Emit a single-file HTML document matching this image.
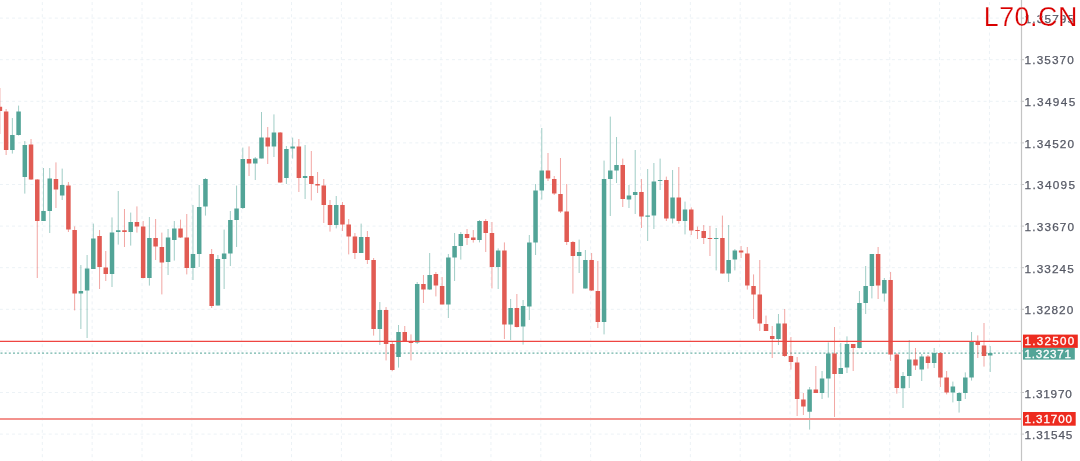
<!DOCTYPE html>
<html lang="en"><head><meta charset="utf-8"><title>Chart</title>
<style>html,body{margin:0;padding:0;background:#fff;}body{width:1080px;height:461px;overflow:hidden;}svg{display:block;}text{font-family:"Liberation Sans",Arial,Helvetica,sans-serif;}</style>
</head><body>
<svg width="1080" height="461" viewBox="0 0 1080 461">
<rect width="1080" height="461" fill="#fff"/>
<g stroke="#ecf2f6" stroke-width="1" stroke-dasharray="3.05 3.06" stroke-dashoffset="0.18" fill="none">
<path d="M0 18.1 H1021.5"/>
<path d="M0 59.7 H1021.5"/>
<path d="M0 101.3 H1021.5"/>
<path d="M0 142.9 H1021.5"/>
<path d="M0 184.5 H1021.5"/>
<path d="M0 226.1 H1021.5"/>
<path d="M0 267.7 H1021.5"/>
<path d="M0 309.3 H1021.5"/>
<path d="M0 350.9 H1021.5"/>
<path d="M0 392.5 H1021.5"/>
<path d="M0 434.1 H1021.5"/>
</g>
<g stroke="#ecf2f6" stroke-width="1" stroke-dasharray="3.05 3.06" stroke-dashoffset="4.09" fill="none">
<path d="M42.3 0 V461"/>
<path d="M92.15 0 V461"/>
<path d="M142 0 V461"/>
<path d="M191.85 0 V461"/>
<path d="M241.7 0 V461"/>
<path d="M291.55 0 V461"/>
<path d="M341.4 0 V461"/>
<path d="M391.25 0 V461"/>
<path d="M441.1 0 V461"/>
<path d="M490.95 0 V461"/>
<path d="M540.8 0 V461"/>
<path d="M590.65 0 V461"/>
<path d="M640.5 0 V461"/>
<path d="M690.35 0 V461"/>
<path d="M740.2 0 V461"/>
<path d="M790.05 0 V461"/>
<path d="M839.9 0 V461"/>
<path d="M889.75 0 V461"/>
<path d="M939.6 0 V461"/>
<path d="M989.45 0 V461"/>
</g>
<path d="M0.5 353.1 H1021.5" stroke="#6fb3a8" stroke-width="1.3" stroke-dasharray="2 2.156" fill="none"/>
<path d="M12.36 118 V153.6 M18.59 105.6 V135.6 M24.81 141 V193.6 M43.5 168 V221 M49.73 168 V233 M62.19 168.6 V200 M80.87 265 V329 M87.1 255 V338 M93.33 223.6 V269 M112.01 217.4 V287 M118.24 191 V244.6 M130.7 212.6 V245.6 M149.38 217 V285.6 M168.07 229 V275 M174.3 221 V260.6 M192.98 205 V280 M199.21 185 V267 M205.44 178 V215.6 M217.9 255 V305.6 M224.13 229.6 V289 M230.35 211 V266 M236.58 185.6 V247 M242.81 147.6 V209 M255.27 157 V180 M261.5 112 V158.4 M273.95 114.4 V157 M286.41 146 V184 M292.64 137.6 V158.6 M305.1 145 V199 M336.24 196 V228.4 M361.15 223.6 V253 M379.84 302 V345 M398.52 325 V367.6 M417.21 282 V344 M429.67 253 V290 M448.35 254 V318 M454.58 233 V281 M460.81 232 V259.6 M479.49 220 V242.4 M498.18 248.4 V289 M510.64 299 V340 M523.09 300 V344.6 M529.32 235 V320 M535.55 184 V255 M541.78 128 V199.6 M579.15 239.6 V273 M585.38 250 V288.6 M604.06 160.6 V334.4 M610.29 116.6 V216 M616.52 137 V183 M628.98 185 V208 M635.21 150 V214 M647.66 169 V241 M653.89 163 V229 M660.12 158.6 V190 M672.58 170 V223.4 M685.03 201.6 V234.4 M716.18 228 V270.4 M728.63 225 V282 M734.86 249 V270.4 M778.46 314 V345 M809.61 387 V429.6 M822.06 371 V399 M828.29 342.4 V397.6 M840.75 343 V374 M846.98 336.4 V373 M859.43 291 V348.4 M865.66 266 V314 M871.89 254 V298.4 M884.35 278 V301.6 M903.03 372 V408 M909.26 340 V388 M921.72 354 V381 M934.18 348 V368 M952.86 381.6 V402.4 M959.09 392 V412.6 M965.32 372.4 V399 M971.55 332 V380.6 M990.23 346 V372" stroke="#54a699" stroke-width="0.56" fill="none"/>
<path d="M-0.1 88 V134 M6.13 109 V155 M31.04 139 V180 M37.27 179 V278 M55.96 162.4 V208 M68.41 182 V232 M74.64 226.4 V310.4 M99.56 230 V289 M105.78 251 V281 M124.47 209 V247 M136.93 206.4 V232.6 M143.16 221 V278.4 M155.61 219 V260 M161.84 232.6 V294.4 M180.53 219.6 V238 M186.76 214 V274.4 M211.67 249 V308 M249.04 146.4 V176 M267.73 127 V164 M280.18 132 V183 M298.87 139 V192 M311.32 151 V200.4 M317.55 172 V193 M323.78 179 V223 M330.01 200 V231.6 M342.47 202 V231 M348.7 219 V254.4 M354.92 233 V259 M367.38 231 V264 M373.61 258 V335.6 M386.07 307 V360.4 M392.3 341 V371.2 M404.75 326 V341.4 M410.98 334.4 V360.4 M423.44 275 V303 M435.89 272 V296.4 M442.12 277 V304.4 M467.04 229 V245 M473.27 230 V242.6 M485.72 219 V252 M491.95 222 V288.4 M504.41 242.4 V339 M516.87 294 V327.5 M548.01 153 V181 M554.24 176 V195 M560.47 158 V213 M566.69 184 V245 M572.92 241 V293.6 M591.61 253 V291 M597.84 261 V328 M622.75 158.6 V207 M641.44 179 V228 M666.35 176.6 V221 M678.81 167 V223.6 M691.26 207.4 V235 M697.49 226.6 V239 M703.72 225 V244 M709.95 226 V256 M722.41 215.6 V273.6 M741.09 246 V258 M747.32 247 V289.6 M753.55 274.4 V319 M759.78 260 V331 M766.01 315.6 V331 M772.23 326 V358 M784.69 309 V357 M790.92 337 V369.6 M797.15 357 V416 M803.38 393 V415 M815.83 366 V393 M834.52 327 V417 M853.2 344 V371 M878.12 247 V299 M890.58 272 V361 M896.8 353 V393.6 M915.49 348 V370 M927.95 355 V368.6 M940.4 352 V387 M946.63 371 V394.4 M977.77 335.4 V358 M984 323 V366.6" stroke="#e86059" stroke-width="0.56" fill="none"/>
<path d="M10.11 135h4.5v15h-4.5zM16.34 111.4h4.5v23.6h-4.5zM22.56 145h4.5v32h-4.5zM41.25 211h4.5v10h-4.5zM47.48 178.4h4.5v32.6h-4.5zM59.94 185h4.5v10.6h-4.5zM78.62 291h4.5v2.4h-4.5zM84.85 268.6h4.5v22h-4.5zM91.08 238.4h4.5v30.6h-4.5zM109.76 232.6h4.5v41.4h-4.5zM115.99 230.3h4.5v1.8h-4.5zM128.45 222h4.5v10h-4.5zM147.13 238h4.5v40h-4.5zM165.82 237.4h4.5v24.6h-4.5zM172.05 228.4h4.5v11.6h-4.5zM190.73 254h4.5v14h-4.5zM196.96 207h4.5v47h-4.5zM203.19 179h4.5v27.6h-4.5zM215.65 259h4.5v46.6h-4.5zM221.88 253.6h4.5v5.4h-4.5zM228.1 220h4.5v33.4h-4.5zM234.33 208.4h4.5v11.6h-4.5zM240.56 159h4.5v49h-4.5zM253.02 158.6h4.5v5h-4.5zM259.25 137.4h4.5v21h-4.5zM271.7 132.6h4.5v13.8h-4.5zM284.16 149h4.5v29h-4.5zM290.39 146.6h4.5v2h-4.5zM302.85 176h4.5v2h-4.5zM333.99 205h4.5v20h-4.5zM358.9 237h4.5v16h-4.5zM377.59 310h4.5v19h-4.5zM396.27 332h4.5v25h-4.5zM414.96 284h4.5v58.6h-4.5zM427.42 275h4.5v14.6h-4.5zM446.1 257.6h4.5v46.8h-4.5zM452.33 246h4.5v11.6h-4.5zM458.56 234h4.5v12h-4.5zM477.24 221h4.5v19h-4.5zM495.93 250.6h4.5v16.4h-4.5zM508.39 308h4.5v16.6h-4.5zM520.84 306h4.5v20.4h-4.5zM527.07 242.4h4.5v64h-4.5zM533.3 190.6h4.5v51.8h-4.5zM539.53 170.4h4.5v20.2h-4.5zM576.9 252h4.5v4h-4.5zM583.13 260h4.5v28.6h-4.5zM601.81 179h4.5v143h-4.5zM608.04 170.4h4.5v8.6h-4.5zM614.27 165h4.5v5.4h-4.5zM626.73 195.4h4.5v4.2h-4.5zM632.96 192h4.5v3h-4.5zM645.41 215.6h4.5v1.2h-4.5zM651.64 181.4h4.5v34.2h-4.5zM657.87 179.9h4.5v1.1h-4.5zM670.33 197.4h4.5v21.2h-4.5zM682.78 209.4h4.5v11.6h-4.5zM713.93 238.1h4.5v0.9h-4.5zM726.38 260h4.5v13.6h-4.5zM732.61 250.4h4.5v9.2h-4.5zM776.21 323.6h4.5v15.4h-4.5zM807.36 389.5h4.5v22.3h-4.5zM819.81 378.6h4.5v14.4h-4.5zM826.04 353.4h4.5v25.2h-4.5zM838.5 368h4.5v6h-4.5zM844.73 344h4.5v23.6h-4.5zM857.18 303h4.5v45h-4.5zM863.41 286h4.5v17h-4.5zM869.64 254h4.5v32h-4.5zM882.1 280h4.5v13.4h-4.5zM900.78 376h4.5v12.2h-4.5zM907.01 359.4h4.5v16.6h-4.5zM919.47 356.4h4.5v13.2h-4.5zM931.93 353h4.5v10h-4.5zM950.61 386.4h4.5v6h-4.5zM956.84 393h4.5v8h-4.5zM963.07 377.6h4.5v15.4h-4.5zM969.3 341.2h4.5v36.2h-4.5zM987.98 353h4.5v2.6h-4.5z" fill="#52a497"/>
<path d="M-2.35 106.8h4.5v4.2h-4.5zM3.88 111.4h4.5v38.6h-4.5zM28.79 144.4h4.5v35.2h-4.5zM35.02 179.6h4.5v41.4h-4.5zM53.71 179h4.5v10.4h-4.5zM66.16 185.6h4.5v44h-4.5zM72.39 230h4.5v63.4h-4.5zM97.31 236h4.5v31h-4.5zM103.53 267.6h4.5v6.4h-4.5zM122.22 230.3h4.5v1.8h-4.5zM134.68 222h4.5v4.4h-4.5zM140.91 226.4h4.5v51.6h-4.5zM153.36 238h4.5v8.6h-4.5zM159.59 247h4.5v15.6h-4.5zM178.28 228.4h4.5v9h-4.5zM184.51 237.4h4.5v30.6h-4.5zM209.42 254h4.5v52h-4.5zM246.79 159h4.5v4.6h-4.5zM265.48 137.4h4.5v9h-4.5zM277.93 132.6h4.5v49.8h-4.5zM296.62 146.6h4.5v31.4h-4.5zM309.07 176h4.5v8h-4.5zM315.3 184h4.5v1.6h-4.5zM321.53 185.6h4.5v19.4h-4.5zM327.76 205h4.5v20h-4.5zM340.22 205h4.5v19.4h-4.5zM346.45 224.4h4.5v12h-4.5zM352.67 236.4h4.5v16.6h-4.5zM365.13 237h4.5v23h-4.5zM371.36 260h4.5v69h-4.5zM383.82 310h4.5v34h-4.5zM390.05 344h4.5v26h-4.5zM402.5 332h4.5v9.4h-4.5zM408.73 341.8h4.5v1.2h-4.5zM421.19 284h4.5v5.6h-4.5zM433.64 274h4.5v11.6h-4.5zM439.87 286h4.5v18.4h-4.5zM464.79 234h4.5v4h-4.5zM471.02 237.6h4.5v2.4h-4.5zM483.47 221h4.5v12h-4.5zM489.7 233h4.5v34h-4.5zM502.16 250.6h4.5v74h-4.5zM514.62 308h4.5v19h-4.5zM545.76 170.4h4.5v8.2h-4.5zM551.99 179h4.5v14.5h-4.5zM558.22 194h4.5v17.4h-4.5zM564.44 211.4h4.5v30.6h-4.5zM570.67 242h4.5v14h-4.5zM589.36 260h4.5v30.6h-4.5zM595.59 291h4.5v31h-4.5zM620.5 165h4.5v34h-4.5zM639.19 192h4.5v24.5h-4.5zM664.1 180h4.5v38.6h-4.5zM676.56 197.4h4.5v23.6h-4.5zM689.01 209.4h4.5v21.2h-4.5zM695.24 230.1h4.5v0.9h-4.5zM701.47 231h4.5v7h-4.5zM707.7 238.1h4.5v0.9h-4.5zM720.16 238h4.5v35.6h-4.5zM738.84 250.4h4.5v2.2h-4.5zM745.07 253.6h4.5v32h-4.5zM751.3 286h4.5v8.4h-4.5zM757.53 294.4h4.5v29.2h-4.5zM763.76 324h4.5v7h-4.5zM769.98 336h4.5v3h-4.5zM782.44 323.6h4.5v32.4h-4.5zM788.67 356h4.5v6h-4.5zM794.9 362.6h4.5v36.4h-4.5zM801.13 399.4h4.5v7.1h-4.5zM813.58 389.5h4.5v3.5h-4.5zM832.27 353.4h4.5v20.6h-4.5zM850.95 344h4.5v4h-4.5zM875.87 254h4.5v31.6h-4.5zM888.33 280h4.5v74.4h-4.5zM894.55 354.4h4.5v33.6h-4.5zM913.24 359.4h4.5v6.2h-4.5zM925.7 356.4h4.5v6.6h-4.5zM938.15 353h4.5v24.4h-4.5zM944.38 377.6h4.5v14.8h-4.5zM975.52 341.2h4.5v3.8h-4.5zM981.75 345.4h4.5v10.6h-4.5z" fill="#e15b53"/>
<path d="M0 341.42 H1021.5" stroke="#ef4541" stroke-width="1.18" fill="none"/>
<path d="M0 419 H1021.5" stroke="#f3928d" stroke-width="1.8" fill="none"/>
<path d="M1021.5 0 V461" stroke="#c4c4c4" stroke-width="1.2" fill="none"/>
<g stroke="#c4c4c4" stroke-width="1">
<path d="M1021.5 18.1 h2.5"/>
<path d="M1021.5 59.7 h2.5"/>
<path d="M1021.5 101.3 h2.5"/>
<path d="M1021.5 142.9 h2.5"/>
<path d="M1021.5 184.5 h2.5"/>
<path d="M1021.5 226.1 h2.5"/>
<path d="M1021.5 267.7 h2.5"/>
<path d="M1021.5 309.3 h2.5"/>
<path d="M1021.5 350.9 h2.5"/>
<path d="M1021.5 392.5 h2.5"/>
<path d="M1021.5 434.1 h2.5"/>
</g>
<g font-size="11.8" fill="#555864" stroke="#555864" stroke-width="0.25">
<text x="1024.6" y="22.7" textLength="49.5" lengthAdjust="spacing">1.35795</text>
<text x="1024.6" y="64.35" textLength="49.2" lengthAdjust="spacing">1.35370</text>
<text x="1024.6" y="106" textLength="50.6" lengthAdjust="spacing">1.34945</text>
<text x="1024.6" y="147.65" textLength="49.5" lengthAdjust="spacing">1.34520</text>
<text x="1024.6" y="189.3" textLength="50.4" lengthAdjust="spacing">1.34095</text>
<text x="1024.6" y="230.95" textLength="49.5" lengthAdjust="spacing">1.33670</text>
<text x="1024.6" y="272.6" textLength="49.2" lengthAdjust="spacing">1.33245</text>
<text x="1024.6" y="314.25" textLength="48.6" lengthAdjust="spacing">1.32820</text>
<text x="1024.6" y="397.55" textLength="47.2" lengthAdjust="spacing">1.31970</text>
<text x="1024.6" y="439.2" textLength="47.8" lengthAdjust="spacing">1.31545</text>
</g>
<rect x="1023" y="334.6" width="54.8" height="13.3" fill="#ed2b1f"/>
<text x="1024.6" y="345.15" font-size="11.6" fill="#fff" stroke="#fff" stroke-width="0.3" textLength="49.5" lengthAdjust="spacing">1.32500</text>
<rect x="1023" y="347.9" width="51.8" height="11.7" fill="#52a497"/>
<text x="1024.6" y="357.65" font-size="11.6" fill="#fff" stroke="#fff" stroke-width="0.3" textLength="46.3" lengthAdjust="spacing">1.32371</text>
<rect x="1023" y="412" width="52.7" height="13.7" fill="#ed2b1f"/>
<text x="1024.6" y="422.75" font-size="11.6" fill="#fff" stroke="#fff" stroke-width="0.3" textLength="47.4" lengthAdjust="spacing">1.31700</text>
<text x="983.7" y="26" font-size="26.8" fill="#d90000" stroke="#fff" stroke-width="0.25" paint-order="fill stroke" textLength="93.6" lengthAdjust="spacing">L70.CN</text>
</svg></body></html>
